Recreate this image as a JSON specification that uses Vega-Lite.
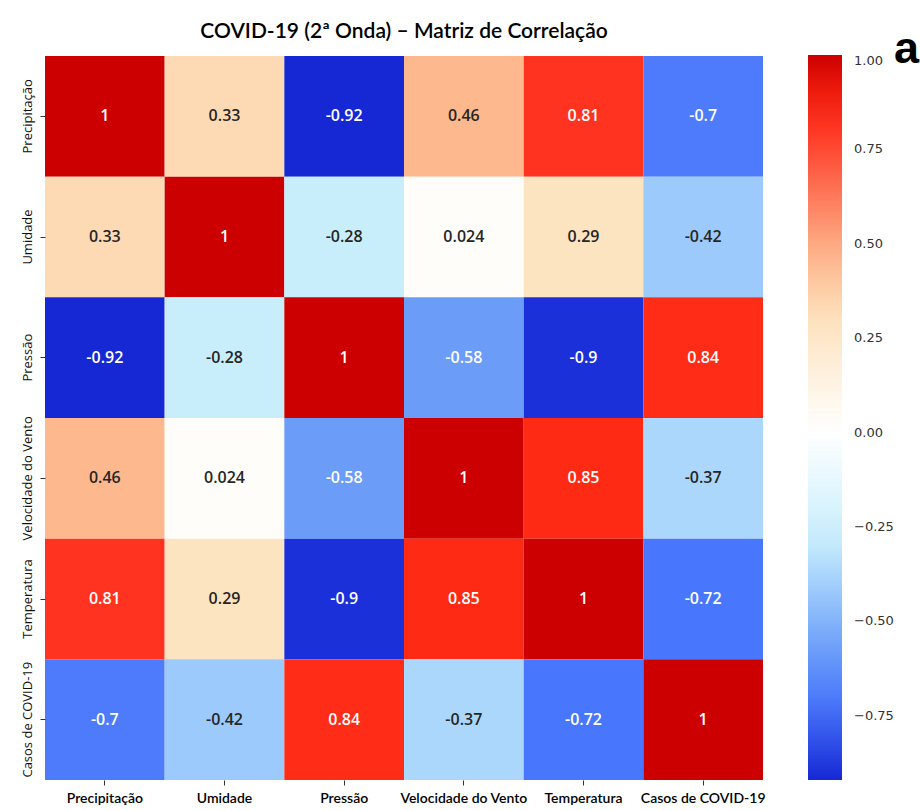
{
  "$schema": "https://vega.github.io/schema/vega-lite/v6.json",
  "autosize": "none",
  "width": 718,
  "height": 724,
  "padding": {"left": 45, "top": 56, "right": 157, "bottom": 30},
  "background": "white",
  "title": {
    "text": "COVID-19 (2ª Onda) – Matriz de Correlação",
    "font": "Lato",
    "fontSize": 21,
    "fontWeight": 600,
    "color": "#000000",
    "anchor": "middle",
    "offset": 14
  },
  "data": {
    "values": [
      {"r": "Precipitação", "c": "Precipitação", "v": 1, "t": "1"},
      {"r": "Precipitação", "c": "Umidade", "v": 0.33, "t": "0.33"},
      {"r": "Precipitação", "c": "Pressão", "v": -0.92, "t": "-0.92"},
      {"r": "Precipitação", "c": "Velocidade do Vento", "v": 0.46, "t": "0.46"},
      {"r": "Precipitação", "c": "Temperatura", "v": 0.81, "t": "0.81"},
      {"r": "Precipitação", "c": "Casos de COVID-19", "v": -0.7, "t": "-0.7"},
      {"r": "Umidade", "c": "Precipitação", "v": 0.33, "t": "0.33"},
      {"r": "Umidade", "c": "Umidade", "v": 1, "t": "1"},
      {"r": "Umidade", "c": "Pressão", "v": -0.28, "t": "-0.28"},
      {"r": "Umidade", "c": "Velocidade do Vento", "v": 0.024, "t": "0.024"},
      {"r": "Umidade", "c": "Temperatura", "v": 0.29, "t": "0.29"},
      {"r": "Umidade", "c": "Casos de COVID-19", "v": -0.42, "t": "-0.42"},
      {"r": "Pressão", "c": "Precipitação", "v": -0.92, "t": "-0.92"},
      {"r": "Pressão", "c": "Umidade", "v": -0.28, "t": "-0.28"},
      {"r": "Pressão", "c": "Pressão", "v": 1, "t": "1"},
      {"r": "Pressão", "c": "Velocidade do Vento", "v": -0.58, "t": "-0.58"},
      {"r": "Pressão", "c": "Temperatura", "v": -0.9, "t": "-0.9"},
      {"r": "Pressão", "c": "Casos de COVID-19", "v": 0.84, "t": "0.84"},
      {"r": "Velocidade do Vento", "c": "Precipitação", "v": 0.46, "t": "0.46"},
      {"r": "Velocidade do Vento", "c": "Umidade", "v": 0.024, "t": "0.024"},
      {"r": "Velocidade do Vento", "c": "Pressão", "v": -0.58, "t": "-0.58"},
      {"r": "Velocidade do Vento", "c": "Velocidade do Vento", "v": 1, "t": "1"},
      {"r": "Velocidade do Vento", "c": "Temperatura", "v": 0.85, "t": "0.85"},
      {"r": "Velocidade do Vento", "c": "Casos de COVID-19", "v": -0.37, "t": "-0.37"},
      {"r": "Temperatura", "c": "Precipitação", "v": 0.81, "t": "0.81"},
      {"r": "Temperatura", "c": "Umidade", "v": 0.29, "t": "0.29"},
      {"r": "Temperatura", "c": "Pressão", "v": -0.9, "t": "-0.9"},
      {"r": "Temperatura", "c": "Velocidade do Vento", "v": 0.85, "t": "0.85"},
      {"r": "Temperatura", "c": "Temperatura", "v": 1, "t": "1"},
      {"r": "Temperatura", "c": "Casos de COVID-19", "v": -0.72, "t": "-0.72"},
      {"r": "Casos de COVID-19", "c": "Precipitação", "v": -0.7, "t": "-0.7"},
      {"r": "Casos de COVID-19", "c": "Umidade", "v": -0.42, "t": "-0.42"},
      {"r": "Casos de COVID-19", "c": "Pressão", "v": 0.84, "t": "0.84"},
      {"r": "Casos de COVID-19", "c": "Velocidade do Vento", "v": -0.37, "t": "-0.37"},
      {"r": "Casos de COVID-19", "c": "Temperatura", "v": -0.72, "t": "-0.72"},
      {"r": "Casos de COVID-19", "c": "Casos de COVID-19", "v": 1, "t": "1"}
    ]
  },
  "encoding": {
    "x": {
      "field": "c", "type": "nominal",
      "sort": ["Precipitação", "Umidade", "Pressão", "Velocidade do Vento", "Temperatura", "Casos de COVID-19"],
      "scale": {"paddingInner": 0, "paddingOuter": 0},
      "axis": {
        "title": null, "labelAngle": 0, "labelFont": "Lato", "labelFontSize": 14,
        "labelFontWeight": 600, "labelColor": "#000000", "domain": false,
        "tickSize": 5, "tickColor": "#333333", "labelPadding": 6
      }
    },
    "y": {
      "field": "r", "type": "nominal",
      "sort": ["Precipitação", "Umidade", "Pressão", "Velocidade do Vento", "Temperatura", "Casos de COVID-19"],
      "scale": {"paddingInner": 0, "paddingOuter": 0},
      "axis": {
        "title": null, "labelAngle": -90, "labelFont": "Open Sans", "labelFontSize": 13,
        "labelColor": "#111111", "domain": false, "tickSize": 5, "tickColor": "#333333",
        "labelPadding": 6
      }
    }
  },
  "layer": [
    {
      "mark": {"type": "rect", "strokeWidth": 0},
      "encoding": {
        "color": {
          "field": "v", "type": "quantitative",
          "scale": {
            "domain": [-0.92, -0.72, -0.58, -0.42, -0.28, 0, 0.29, 0.46, 0.81, 0.85, 1],
            "range": ["#1628d4", "#4876fc", "#6a9cf8", "#9ccafc", "#c8eefc", "#ffffff", "#fde4c0", "#fdb88e", "#ff3320", "#ff2a14", "#cc0000"],
            "interpolate": "rgb"
          },
          "legend": {
            "type": "gradient",
            "direction": "vertical",
            "orient": "right",
            "offset": 45,
            "padding": 0,
            "values": [1, 0.75, 0.5, 0.25, 0, -0.25, -0.5, -0.75],
            "format": ".2f",
            "gradientLength": 725,
            "gradientThickness": 34,
            "gradientStrokeWidth": 0,
            "labelFont": "DejaVu Sans",
            "labelFontSize": 13,
            "labelColor": "#333333",
            "labelOffset": 12,
            "title": "a",
            "titleOrient": "top",
            "titleAnchor": "end",
            "titleAlign": "left",
            "titleBaseline": "line-bottom",
            "titleLineHeight": 13,
            "titleFont": "Liberation Sans",
            "titleFontSize": 45,
            "titleFontWeight": "bold",
            "titleColor": "#000000",
            "titlePadding": -46
          }
        }
      }
    },
    {
      "mark": {"type": "text", "font": "Open Sans", "fontSize": 16, "fontWeight": 600},
      "encoding": {
        "text": {"field": "t", "type": "nominal"},
        "color": {
          "condition": {"test": "abs(datum.v) > 0.5", "value": "#ffffff"},
          "value": "#262626"
        }
      }
    }
  ],
  "config": {"view": {"stroke": null}}
}
